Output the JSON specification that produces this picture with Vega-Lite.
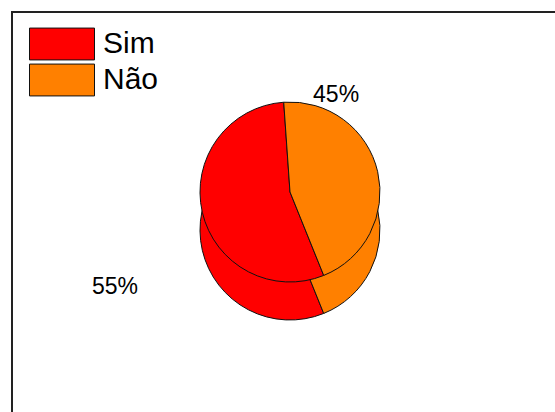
{
  "$schema": "https://vega.github.io/schema/vega-lite/v6.json",
  "width": 563,
  "height": 420,
  "autosize": {"type": "none"},
  "padding": {"left": 12, "top": 12, "right": -20, "bottom": -20},
  "background": "white",
  "view": {"stroke": "#222222", "strokeWidth": 2},
  "config": {"view": {"stroke": "#222222", "strokeWidth": 2}, "font": "Liberation Sans"},
  "data": {"values": [{"answer": "Sim", "share": 0.55}, {"answer": "Não", "share": 0.45}]},
  "resolve": {"scale": {"theta": "independent"}},
  "layer": [
    {
      "mark": {"type": "arc", "radius": 90, "stroke": "#111111", "strokeWidth": 1, "xOffset": -3.5, "yOffset": 8},
      "encoding": {
        "theta": {"field": "share", "type": "quantitative", "stack": true, "scale": {"range": [-0.0698, 6.2134]}},
        "order": {"field": "answer", "type": "nominal", "sort": "ascending"},
        "color": {"field": "answer", "type": "nominal", "scale": {"domain": ["Sim", "Não"], "range": ["#FF0000", "#FF8000"]},
          "legend": {"orient": "none", "legendX": 17, "legendY": 14, "title": null, "symbolType": "M-1,-0.49H1V0.49H-1Z", "symbolSize": 4225, "symbolStrokeColor": "#333333", "symbolStrokeWidth": 1, "symbolOpacity": 1, "labelFontSize": 30, "labelFont": "Liberation Sans", "labelColor": "#000000", "labelOffset": 8, "rowPadding": 0, "clipHeight": 36, "padding": 0}}
      }
    },
    {
      "mark": {"type": "arc", "radius": 90, "stroke": "#111111", "strokeWidth": 1, "xOffset": -3.5, "yOffset": -30},
      "encoding": {
        "theta": {"field": "share", "type": "quantitative", "stack": true, "scale": {"range": [-0.0698, 6.2134]}},
        "order": {"field": "answer", "type": "nominal", "sort": "ascending"},
        "color": {"field": "answer", "type": "nominal"}
      }
    },
    {
      "mark": {"type": "text", "radius": 107, "xOffset": -3.5, "yOffset": -30, "fontSize": 23, "font": "Liberation Sans", "fill": "#000000", "align": "center", "baseline": "middle"},
      "encoding": {
        "theta": {"field": "share", "type": "quantitative", "stack": true, "scale": {"range": [-0.9687, 5.3145]}},
        "order": {"field": "answer", "type": "nominal", "sort": "ascending"},
        "text": {"field": "share", "type": "quantitative", "format": ".0%"},
        "opacity": {"condition": {"test": "datum.answer === 'Não'", "value": 1}, "value": 0}
      }
    },
    {
      "mark": {"type": "text", "radius": 199, "xOffset": -3.5, "yOffset": -30, "fontSize": 23, "font": "Liberation Sans", "fill": "#000000", "align": "center", "baseline": "middle"},
      "encoding": {
        "theta": {"field": "share", "type": "quantitative", "stack": true, "scale": {"range": [-0.3386, 5.9446]}},
        "order": {"field": "answer", "type": "nominal", "sort": "ascending"},
        "text": {"field": "share", "type": "quantitative", "format": ".0%"},
        "opacity": {"condition": {"test": "datum.answer === 'Sim'", "value": 1}, "value": 0}
      }
    }
  ]
}
